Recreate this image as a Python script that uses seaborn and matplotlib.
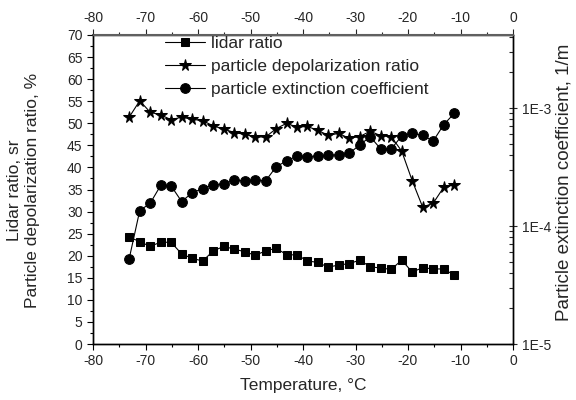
import numpy as np
import matplotlib
matplotlib.use('Agg')
import matplotlib.pyplot as plt
import seaborn as sns
from matplotlib.ticker import MultipleLocator, FixedLocator, LogLocator, FuncFormatter, NullFormatter

# Temperature, deg C
temperature = [-73.1, -71.1, -69.1, -67.1, -65.1, -63.1, -61.1, -59.1, -57.1, -55.1,
               -53.1, -51.1, -49.1, -47.1, -45.1, -43.1, -41.1, -39.2, -37.2, -35.2,
               -33.2, -31.2, -29.2, -27.2, -25.2, -23.2, -21.2, -19.2, -17.2, -15.2,
               -13.2, -11.2]

# lidar ratio, sr
lidar_ratio = [24.2, 23.2, 22.1, 23.1, 23.0, 20.4, 19.4, 18.8, 21.1, 22.1,
               21.5, 20.9, 20.1, 21.1, 21.7, 20.2, 20.2, 18.8, 18.5, 17.4,
               17.9, 18.2, 19.0, 17.5, 17.2, 16.9, 19.0, 16.3, 17.3, 17.0,
               17.0, 15.6]

# particle depolarization ratio, %
depol_ratio = [51.4, 55.1, 52.5, 51.9, 50.8, 51.4, 50.9, 50.6, 49.4, 48.7,
               47.9, 47.5, 46.9, 46.9, 48.8, 50.0, 49.1, 49.3, 48.4, 47.3,
               47.7, 46.6, 47.0, 48.2, 47.2, 47.0, 43.7, 37.0, 31.0, 31.9,
               35.5, 36.1]

# particle extinction coefficient, 1/m
extinction = [5.3e-5, 1.35e-4, 1.56e-4, 2.21e-4, 2.18e-4, 1.61e-4, 1.92e-4, 2.07e-4,
              2.24e-4, 2.27e-4, 2.45e-4, 2.42e-4, 2.45e-4, 2.42e-4, 3.18e-4, 3.57e-4,
              3.92e-4, 3.87e-4, 3.92e-4, 3.97e-4, 4.02e-4, 4.13e-4, 4.86e-4, 5.71e-4,
              4.50e-4, 4.50e-4, 5.79e-4, 6.10e-4, 5.87e-4, 5.25e-4, 7.22e-4, 9.0e-4]

sns.set_style('ticks')
plt.rcParams['font.family'] = ['Liberation Sans', 'DejaVu Sans']
plt.rcParams['axes.unicode_minus'] = False

W, H = 576, 400
fig = plt.figure(figsize=(W / 100, H / 100), dpi=100)
ax = fig.add_axes([93 / W, 56 / H, 420 / W, 309 / H])
ax2 = ax.twinx()

sns.lineplot(x=temperature, y=lidar_ratio, ax=ax, color='black', lw=0.8,
             marker='s', ms=5.3, mec='black', estimator=None, sort=False,
             label='lidar ratio', legend=False)
sns.lineplot(x=temperature, y=depol_ratio, ax=ax, color='black', lw=0.8,
             marker='*', ms=8.5, mec='black', estimator=None, sort=False,
             label='particle depolarization ratio', legend=False)
sns.lineplot(x=temperature, y=extinction, ax=ax2, color='black', lw=0.8,
             marker='o', ms=7, mec='black', estimator=None, sort=False,
             label='particle extinction coefficient', legend=False)

# left axis
ax.set_xlim(-80, 0)
ax.set_ylim(0, 70)
ax.xaxis.set_major_locator(MultipleLocator(10))
ax.xaxis.set_minor_locator(MultipleLocator(5))
ax.yaxis.set_major_locator(MultipleLocator(5))
ax.yaxis.set_minor_locator(MultipleLocator(2.5))
ax.tick_params(which='both', direction='out', labelsize=10, width=0.8, color='black')
ax.tick_params(which='major', length=4)
ax.tick_params(which='minor', length=2.5)
ax.set_xlabel('Temperature, \u00b0C', fontsize=12.5, labelpad=7)

top = ax.secondary_xaxis('top')
top.xaxis.set_major_locator(MultipleLocator(10))
top.xaxis.set_minor_locator(MultipleLocator(5))
top.tick_params(which='both', direction='out', labelsize=10, width=0.8)
top.tick_params(which='major', length=4)
top.tick_params(which='minor', length=2.5)
top.spines['top'].set_color('#606060')
top.spines['top'].set_linewidth(1.5)

# right log axis
ax2.set_yscale('log')
ax2.set_ylim(1e-5, 10 ** (-5 + 309 / 118))
ax2.yaxis.set_major_locator(FixedLocator([1e-5, 1e-4, 1e-3]))
ax2.yaxis.set_major_formatter(FuncFormatter(lambda v, p: '1E%d' % round(np.log10(v))))
ax2.yaxis.set_minor_locator(LogLocator(base=10, subs=np.arange(2, 10)))
ax2.yaxis.set_minor_formatter(NullFormatter())
ax2.tick_params(which='major', direction='inout', length=6, labelsize=10, width=0.8)
ax2.tick_params(which='minor', direction='in', length=3, width=0.8)
ax2.set_ylabel('')

for a in (ax, ax2):
    for s in a.spines.values():
        s.set_linewidth(1.0)
        s.set_color('black')
ax.spines['top'].set_color('#606060')
ax2.spines['top'].set_color('#606060')

# axis titles
fig.text(15 / W, 1 - 190 / H, 'Lidar ratio, sr', rotation=90, ha='center', va='center', fontsize=12.5)
fig.text(33 / W, 1 - 190 / H, 'Particle depolarization ratio, %', rotation=90,
         ha='center', va='center', fontsize=12.5)
fig.text(564 / W, 1 - 182 / H, 'Particle extinction coefficient, 1/m', rotation=90,
         ha='center', va='center', fontsize=13.5)

h1, l1 = ax.get_legend_handles_labels()
h2, l2 = ax2.get_legend_handles_labels()
leg = ax2.legend(h1 + h2, l1 + l2, loc='upper left', bbox_to_anchor=(165 / W, 1 - 36 / H),
                 bbox_transform=fig.transFigure, frameon=False, fontsize=12.5,
                 handlelength=2.3, handletextpad=0.35, labelspacing=0.45,
                 borderpad=0, borderaxespad=0, numpoints=1)

fig.savefig('out.png', dpi=100)
